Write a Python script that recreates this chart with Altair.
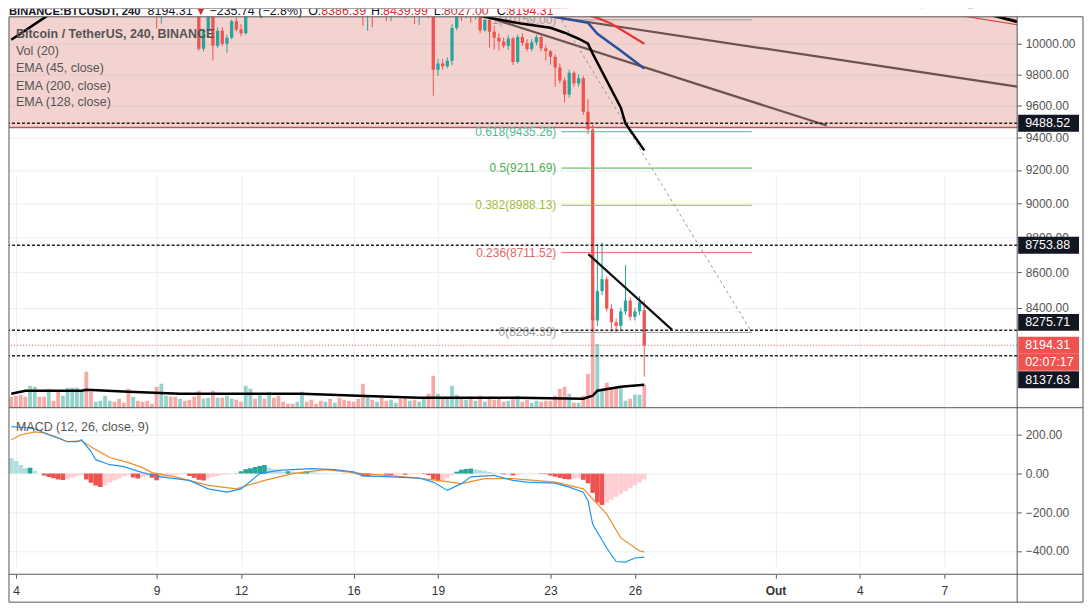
import altair as alt
import pandas as pd
from datetime import datetime, timedelta

FONT = "Liberation Sans"
GRID = "#e9eff4"
UP, DOWN = "#26a69a", "#ef5350"
VOL_UP, VOL_DOWN = "#93d2cb", "#f6aaa7"

# ---------------- data ----------------
FIRST_CANDLE = datetime(2019, 9, 3, 20, 0)   # 4h candles, BINANCE BTCUSDT
CANDLE_HOURS = 4

OPEN = [10600,10560,10530,10490,10470,10580,10640,10600,10570,10630,
        10600,10540,10580,10650,10730,10820,10880,10480,10360,10390,
        10420,10470,10500,10470,10440,10420,10350,10400,10360,10320,
        10300,10270,10200,10280,10310,10260,10240,10300,10270,10260,
        10250,9967,10086,10180,9987,10086,10000,10040,10150,10095,
        10070,10240,10330,10300,10420,10400,10430,10400,10370,10340,
        10320,10300,10330,10380,10360,10350,10330,10320,10350,10330,
        10360,10330,10310,10290,10260,10240,10200,10230,10220,10260,
        10240,10200,10230,10260,10240,10210,10230,10190,10220,10240,
        10210,9830,9870,9852,9889,10105,10230,10200,10240,10190,
        10220,10090,10160,10080,10040,10015,9987,10035,9880,10045,
        10005,9965,10010,10045,9970,9950,9915,9845,9760,9670,
        9810,9740,9775,9560,9450,8330,8493,8560,8395,8320,
        8300,8380,8440,8350,8380,8386.39]
HIGH = [10630,10590,10560,10520,10600,10670,10660,10620,10650,10640,
        10610,10600,10670,10760,10850,10920,10900,10510,10420,10450,
        10500,10530,10530,10490,10460,10440,10420,10430,10390,10350,
        10330,10290,10300,10340,10330,10290,10320,10330,10310,10290,
        10270,10100,10200,10210,10110,10110,10060,10160,10175,10130,
        10260,10350,10360,10450,10440,10450,10450,10420,10390,10360,
        10340,10350,10400,10400,10390,10370,10350,10370,10370,10380,
        10370,10350,10330,10310,10280,10260,10250,10260,10280,10280,
        10260,10250,10280,10270,10260,10250,10240,10240,10260,10250,
        10240,9900,9900,9910,10130,10260,10280,10260,10260,10240,
        10240,10170,10175,10120,10070,10040,10055,10045,10060,10070,
        10030,10030,10060,10055,9990,9960,9930,9870,9780,9830,
        9820,9800,9790,9640,9480,8760,8770,8575,8420,8340,
        8400,8640,8460,8400,8465,8439.99]
LOW = [10520,10500,10460,10430,10460,10560,10580,10540,10560,10580,
       10510,10520,10570,10630,10710,10790,10420,10300,10330,10370,
       10400,10450,10440,10410,10400,10330,10320,10330,10300,10280,
       10250,10100,10133,10250,10230,10210,10230,10250,10220,10220,
       9955,9950,10053,9889,9970,9985,9941,10030,10080,10050,
       10060,10220,10280,10290,10370,10380,10380,10350,10320,10300,
       10280,10280,10310,10340,10330,10310,10300,10300,10310,10320,
       10310,10290,10270,10240,10210,10120,10086,10110,10200,10220,
       10150,10150,10210,10220,10170,10190,10130,10125,10200,10170,
       9663,9790,9830,9840,9860,10090,10150,10170,10140,10160,
       10070,10080,9974,9960,9954,9970,9960,9860,9870,9985,
       9950,9950,9990,9950,9890,9862,9720,9740,9620,9650,
       9720,9720,9540,9420,8264.39,8300,8470,8380,8270,8268,
       8275,8360,8330,8330,8360,8027.00]
CLOSE = [10560,10530,10490,10470,10580,10640,10600,10570,10630,10600,
         10540,10580,10650,10730,10820,10880,10480,10360,10390,10420,
         10470,10500,10470,10440,10420,10350,10400,10360,10320,10300,
         10270,10200,10280,10310,10260,10240,10300,10270,10260,10250,
         9967,10086,10180,9987,10086,10000,10040,10150,10095,10070,
         10240,10330,10300,10420,10400,10430,10400,10370,10340,10320,
         10300,10330,10380,10360,10350,10330,10320,10350,10330,10360,
         10330,10310,10290,10260,10240,10200,10230,10220,10260,10240,
         10200,10230,10260,10240,10210,10230,10190,10220,10240,10210,
         9830,9870,9852,9889,10105,10230,10200,10240,10190,10220,
         10090,10160,10080,10040,10015,9987,10035,9880,10045,10005,
         9965,10010,10045,9970,9950,9915,9845,9760,9670,9810,
         9740,9775,9560,9450,8330,8493,8560,8395,8320,8300,
         8380,8440,8350,8380,8430.05,8194.31]
VOLUME = [5500,6000,6500,5500,11000,10500,5500,5500,9500,3500,
          8000,6000,10000,10000,10000,9000,18000,8000,3000,3500,
          6000,3500,3000,4500,2500,9500,5500,3500,3000,3500,
          2000,10500,12000,6000,5500,5500,4500,3500,4000,5500,
          8500,4500,5000,8500,5000,5000,6000,4500,4000,3000,
          11000,9500,4500,7000,4500,8000,5000,6000,3000,2000,
          2000,3000,8000,3000,4000,2000,3500,3000,4500,2500,
          5000,4000,3500,3000,4500,12000,6000,4000,3000,5000,
          3500,4000,2500,4500,5500,3500,4000,3000,5000,7000,
          16000,7000,4500,5000,11000,6500,4500,4000,5500,3500,
          6000,3000,4500,4000,5000,3000,3500,5500,6000,3000,
          4000,2500,3500,3000,3500,3500,6000,9500,10500,7000,
          2500,2500,6000,17000,47000,32000,8500,12500,10000,10000,
          10000,3500,4500,6500,6500,11500]
HIST = [80,65,45,28,30,15,2,-10,-18,-24,
        -30,-33,-28,-20,-12,-8,-30,-48,-62,-70,
        -60,-48,-36,-25,-14,-6,-20,-26,-18,-10,
        -22,-34,-24,-16,-10,-6,-3,-2,-12,-22,
        -32,-36,-26,-18,-12,-6,-3,-1,2,12,
        22,28,34,40,44,30,22,14,8,12,
        10,6,9,12,8,5,3,2,1,1,
        0.5,-1,-1,-2,-4,-14,-16,-10,-6,-4,
        -6,-8,-5,-3,-6,-4,-3,-2,-3,-8,
        -30,-40,-36,-24,-8,10,20,24,26,22,
        18,14,8,4,1,-4,-3,-10,-6,-3,
        -2,-2,-1,-2,-3,-10,-16,-22,-28,-30,
        -26,-24,-32,-50,-100,-150,-162,-150,-135,-120,
        -105,-90,-75,-60,-45,-30]

# indicator lines: candle index -> value
MACD_K = [0,2,5,8,12,14,15,17,18,21,24,28,32,38,42,46,49,53,57,64,69,73,75,81,87,90,
          93,96,98,103,107,110,116,119,122,123,124,127,129,131,133,135]
MACD_V = [243,240,232,201,165,165,175,114,72,46,36,5,-17,-35,-79,-96,-79,0,17,26,21,9,
          -12,-17,-23,-44,-87,-52,-17,-9,-35,-44,-49,-70,-96,-140,-262,-385,-455,-458,-437,-432]
SIGNAL_K = [0,2,5,7,10,12,15,18,21,25,28,30,35,42,48,54,60,67,75,84,91,96,101,107,116,
            122,127,130,134,135]
SIGNAL_V = [175,201,216,211,186,165,170,124,83,57,31,5,-17,-61,-79,-35,0,21,0,-17,-35,
            -52,-26,-26,-44,-79,-210,-333,-400,-405]
EMA45_K = [0,7,10,20,40,60,80,95,102,109,115,118,121,123,124,127,130,131,135]
EMA45_V = [10026,10172,10260,10420,10330,10300,10270,10220,10172,10133,10106,10073,
           10033,10000,9935,9759,9587,9487,9320]
EMA128_K = [0,60,100,110,117,123,125,130,135]
EMA128_V = [10300,10320,10260,10215,10172,10139,10066,9954,9837]
EMA200_K = [0,100,118,125,128,135]
EMA200_V = [10350,10300,10240,10172,10133,10000]
VOLMA_K = [0,3,15,16,25,36,62,74,87,108,122,124,125,130,135]
VOLMA_V = [7000,8500,8500,9000,8000,7000,7000,6000,5000,5000,4500,6000,8500,10500,11500]

# drawings
FIB_NAMES = ["1", "0.618", "0.5", "0.382", "0.236", "0"]
FIB_PRICES = [10159.00, 9435.26, 9211.69, 8988.13, 8711.52, 8264.39]
FIB_COLORS = ["#9e9e9e", "#4fb99a", "#4caf50", "#a3b93c", "#e06666", "#9e9e9e"]
FIB_START, FIB_END, FIB_LABEL_AT = "2019-09-23T09:20:00Z", "2019-09-30T03:50:00Z", "2019-09-23T05:00:00Z"
ZONE_LOW = 9462
LEVELS = [9488.52, 8753.88, 8275.71, 8137.63]
LAST_CLOSE = 8194.31
TRENDS = [  # t1, p1, t2, p2, color, width, dash
    ("2019-09-22T18:52:00Z", 10188, "2019-10-09T14:07:00Z", 9721, "#6b5350", 2.2, []),
    ("2019-09-20T09:53:00Z", 10199, "2019-10-02T19:38:00Z", 9474, "#6b5350", 2.2, []),
    (FIB_START, 10159.00, FIB_END, 8264.39, "#9a9a9a", 1, [3, 3]),
    ("2019-09-24T08:18:00Z", 8702.8, "2019-09-27T07:47:00Z", 8278, "#111111", 2.2, []),
    ("2019-10-06T02:44:00Z", 10233, "2019-10-09T14:07:00Z", 10126, "#e53935", 1.2, []),
    ("2019-10-07T20:25:00Z", 10233, "2019-10-09T14:07:00Z", 10146, "#000000", 3, []),
]
PRICE_TAGS = [  # anchor price, text, colour, vertical shift in px
    (9488.52, "9488.52", "#131722", 0),
    (8753.88, "8753.88", "#131722", 0),
    (8275.71, "8275.71", "#131722", -8),
    (8194.31, "8194.31", "#ef5350", 0),
    (8194.31, "02:07:17", "#ef5350", 17),
    (8137.63, "8137.63", "#131722", 24),
]
PRICE_TICKS = [8400, 8600, 8800, 9000, 9200, 9400, 9600, 9800, 10000]
MACD_TICKS = [-400, -200, 0, 200]

# ---------------- frames ----------------
def iso(dt):
    return dt.strftime("%Y-%m-%dT%H:%M:%SZ")

N = len(CLOSE)
T = [iso(FIRST_CANDLE + timedelta(hours=CANDLE_HOURS * k)) for k in range(N)]
c = pd.DataFrame(dict(t=T, o=OPEN, h=HIGH, l=LOW, c=CLOSE, v=VOLUME, hist=HIST))
c["col"] = [UP if cl >= op else DOWN for op, cl in zip(OPEN, CLOSE)]
c["vcol"] = [VOL_UP if cl >= op else VOL_DOWN for op, cl in zip(OPEN, CLOSE)]
hcol, prev = [], None
for h in HIST:
    p = h + 1 if prev is None else prev
    if h >= 0:
        hcol.append("#26a69a" if h > p else "#b2dfdb")
    else:
        hcol.append("#ef5350" if h < p else "#ffcdd2")
    prev = h
c["hcol"] = hcol

def series(K, V):
    return pd.DataFrame({"t": [T[k] for k in K], "v": V})

one = pd.DataFrame({"d": [0]})

# ---------------- scales / axes ----------------
W, H = 1011, 567
xscale = alt.Scale(type="utc", padding=0, domain=[
    alt.DateTime(year=2019, month=9, date=3, hours=18, minutes=3, utc=True),
    alt.DateTime(year=2019, month=10, date=9, hours=14, minutes=9, utc=True)])
XTICKS = [alt.DateTime(year=2019, month=m, date=d, utc=True)
          for m, d in [(9, 4), (9, 9), (9, 12), (9, 16), (9, 19), (9, 23), (9, 26), (10, 1), (10, 4), (10, 7)]]
xaxis = alt.Axis(values=XTICKS, grid=True, gridColor=GRID, domain=False, tickSize=4, tickColor="#555",
                 labelExpr="utcdate(datum.value) == 1 ? 'Out' : '' + utcdate(datum.value)",
                 labelFontWeight={"condition": {"test": "utcdate(datum.value) == 1", "value": "bold"},
                                  "value": "normal"},
                 labelFont=FONT, labelFontSize=12, labelColor="#333", labelPadding=7,
                 labelOverlap=False, labelFlush=False, title=None)

def X(f="t"):
    return alt.X(f"{f}:T", scale=xscale, axis=xaxis, title=None)

pscale = alt.Scale(type="log", domain=[7863.6, 10233.1], range=[400, 0], nice=False, zero=False, clamp=True)
paxis = alt.Axis(orient="right", values=PRICE_TICKS, format=".2f", grid=True, gridColor=GRID, domain=False,
                 tickSize=4, tickColor="#555", labelFont=FONT, labelFontSize=12, labelColor="#555",
                 labelPadding=4, labelOverlap=False, title=None)

def PY(f):
    return alt.Y(f"{f}:Q", scale=pscale, axis=paxis, title=None)

mscale = alt.Scale(domain=[-521, 341], range=[H, 400], nice=False, zero=False)
maxis = alt.Axis(orient="right", values=MACD_TICKS, format=".2f", grid=True, gridColor=GRID, domain=False,
                 tickSize=4, tickColor="#555", labelFont=FONT, labelFontSize=12, labelColor="#555",
                 labelPadding=4, labelOverlap=False, title=None)

def MY(f):
    return alt.Y(f"{f}:Q", scale=mscale, axis=maxis, title=None)

vscale = alt.Scale(domain=[0, 196000], range=[400, 8], nice=False)

# ---------------- volume ----------------
vol_group = alt.layer(
    alt.Chart(c).mark_bar(size=3.8, clip=True).encode(
        x=X(), y=alt.Y("v:Q", scale=vscale, axis=None), color=alt.Color("vcol:N", scale=None)),
    alt.Chart(series(VOLMA_K, VOLMA_V)).mark_line(color="#000", strokeWidth=2.5, clip=True).encode(
        x=X(), y=alt.Y("v:Q", scale=vscale, axis=None)),
)

# ---------------- price ----------------
zone = pd.DataFrame({"t0": ["2019-09-01T00:00:00Z"], "t1": ["2019-10-12T00:00:00Z"], "p0": [ZONE_LOW], "p1": [10400]})
fib = pd.DataFrame({"p": FIB_PRICES, "col": FIB_COLORS,
                    "lab": [f"{n}({p:.2f})" for n, p in zip(FIB_NAMES, FIB_PRICES)],
                    "t0": FIB_START, "t1": FIB_END, "tl": FIB_LABEL_AT})

price_layers = [
    alt.Chart(zone).mark_rect(color="#e0968c", opacity=0.42, clip=True).encode(
        x=X("t0"), x2="t1", y=PY("p0"), y2="p1"),
    alt.Chart(pd.DataFrame({"p": [ZONE_LOW]})).mark_rule(color="#b45a5a", strokeWidth=1.5).encode(y=PY("p")),
    alt.Chart(c).mark_rule(strokeWidth=1, clip=True).encode(
        x=X(), y=PY("l"), y2="h", color=alt.Color("col:N", scale=None)),
    alt.Chart(c).mark_bar(size=3.3, clip=True).encode(
        x=X(), y=PY("o"), y2="c", color=alt.Color("col:N", scale=None)),
    alt.Chart(fib).mark_rule(strokeWidth=1, clip=True).encode(
        x=X("t0"), x2="t1", y=PY("p"), color=alt.Color("col:N", scale=None)),
    alt.Chart(fib).mark_text(align="right", baseline="middle", font=FONT, fontSize=12, clip=True).encode(
        x=X("tl"), y=PY("p"), text="lab:N", color=alt.Color("col:N", scale=None)),
]
for t1, p1, t2, p2, col, wdt, dash in TRENDS:
    df = pd.DataFrame({"t1": [t1], "p1": [p1], "t2": [t2], "p2": [p2]})
    mk = dict(color=col, strokeWidth=wdt, clip=True)
    if dash:
        mk["strokeDash"] = dash
    price_layers.append(alt.Chart(df).mark_rule(**mk).encode(x=X("t1"), y=PY("p1"), x2="t2", y2="p2"))
for K, V, col, wdt in [(EMA200_K, EMA200_V, "#e53935", 2.2), (EMA128_K, EMA128_V, "#2a4fa0", 2.5),
                       (EMA45_K, EMA45_V, "#000000", 2.5)]:
    price_layers.append(alt.Chart(series(K, V)).mark_line(color=col, strokeWidth=wdt, clip=True).encode(
        x=X(), y=PY("v")))
price_layers += [
    alt.Chart(pd.DataFrame({"p": LEVELS})).mark_rule(color="#222", strokeWidth=1.5, strokeDash=[3, 2]).encode(
        y=PY("p")),
    alt.Chart(pd.DataFrame({"p": [LAST_CLOSE]})).mark_rule(color="#ef5350", strokeWidth=1, strokeDash=[1, 2]).encode(
        y=PY("p")),
    # title band mask
    alt.Chart(one).mark_rect(color="white").encode(
        x=alt.value(0), x2=alt.value(W), y=alt.value(0), y2=alt.value(8)),
]
HEADER = [  # text, x, colour, weight, size
    ("BINANCE:BTCUSDT, 240", 0, "#131722", "bold", 11.2),
    ("8194.31", 139, "#131722", "normal", 12.5),
    ("▼", 187, "#d0312d", "normal", 11),
    ("−235.74 (−2.8%)", 201, "#131722", "normal", 12.5),
    ("O:", 300, "#131722", "normal", 12.5), ("8386.39", 313, "#d0312d", "normal", 12.5),
    ("H:", 363, "#131722", "normal", 12.5), ("8439.99", 375, "#d0312d", "normal", 12.5),
    ("L:", 426, "#131722", "normal", 12.5), ("8027.00", 436, "#d0312d", "normal", 12.5),
    ("C:", 489, "#131722", "normal", 12.5), ("8194.31", 501, "#d0312d", "normal", 12.5),
]
for txt, xx, col, wt, fs in HEADER:
    price_layers.append(alt.Chart(one).mark_text(
        text=txt, align="left", baseline="alphabetic", font=FONT, fontSize=fs, fontWeight=wt, color=col,
        clip=True).encode(x=alt.value(xx), y=alt.value(6.5)))
LEGEND = [("Bitcoin / TetherUS, 240, BINANCE", 25.3, "bold"), ("Vol (20)", 42.7, "normal"),
          ("EMA (45, close)", 59.7, "normal"), ("EMA (200, close)", 77, "normal"),
          ("EMA (128, close)", 93, "normal")]
for txt, yy, wt in LEGEND:
    price_layers.append(alt.Chart(one).mark_text(
        text=txt, align="left", baseline="middle", font=FONT, fontSize=12.5, fontWeight=wt,
        color="#555").encode(x=alt.value(7), y=alt.value(yy)))
for p, txt, col, off in PRICE_TAGS:
    df = pd.DataFrame({"p": [p], "s": [txt]})
    price_layers.append(alt.Chart(df).mark_tick(
        orient="horizontal", size=61, thickness=17, color=col, opacity=1, yOffset=off).encode(
        x=alt.value(W + 31.5), y=PY("p")))
    price_layers.append(alt.Chart(df).mark_text(
        align="left", baseline="middle", font=FONT, fontSize=12.5, color="white", yOffset=off).encode(
        x=alt.value(W + 8), y=PY("p"), text="s:N"))
price_group = alt.layer(*price_layers)

# ---------------- MACD ----------------
macd_group = alt.layer(
    alt.Chart(c).mark_bar(size=4.7, clip=True).encode(
        x=X(), y=MY("hist"), color=alt.Color("hcol:N", scale=None)),
    alt.Chart(series(SIGNAL_K, SIGNAL_V)).mark_line(color="#f28c28", strokeWidth=1.2, clip=True).encode(
        x=X(), y=MY("v")),
    alt.Chart(series(MACD_K, MACD_V)).mark_line(color="#2196f3", strokeWidth=1.2, clip=True).encode(
        x=X(), y=MY("v")),
    alt.Chart(one).mark_text(text="MACD (12, 26, close, 9)", align="left", baseline="middle", font=FONT,
                             fontSize=12.5, color="#555").encode(x=alt.value(7), y=alt.value(419)),
)

# ---------------- frame ----------------
FR = "#555"
frame = []
for x1, x2, y1, y2 in [(0, W + 66, 8, 8), (0, W + 66, 400, 400), (0, W + 66, H, H), (0, W + 66, H + 28, H + 28),
                       (0, 0, 8, H + 28), (W, W, 8, H + 28), (W + 66, W + 66, 8, H + 28)]:
    frame.append(alt.Chart(one).mark_rule(color=FR, strokeWidth=1).encode(
        x=alt.value(x1), x2=alt.value(x2), y=alt.value(y1), y2=alt.value(y2)))

chart = alt.layer(vol_group, price_group, macd_group, *frame).resolve_scale(y="independent").properties(
    width=W, height=H, padding={"left": 0, "top": 0, "right": 0, "bottom": 0}, background="white"
).configure_view(stroke=None)

chart.save("out.html", embed_options={"renderer": "svg", "actions": False})
